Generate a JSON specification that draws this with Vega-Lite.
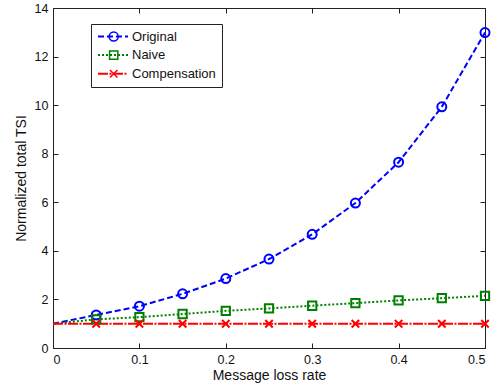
{
  "$schema": "https://vega.github.io/schema/vega-lite/v6.json",
  "width": 432,
  "height": 340,
  "autosize": {"type": "none"},
  "padding": {"left": 53, "top": 8, "right": 15, "bottom": 43},
  "background": "white",
  "config": {
    "font": "Liberation Sans",
    "view": {"stroke": "#222", "strokeWidth": 1},
    "axis": {"grid": false, "labelFont": "Liberation Sans", "titleFont": "Liberation Sans", "labelColor": "#111", "titleColor": "#111", "tickColor": "#222", "domainColor": "#222", "labelFontSize": 12.5, "titleFontSize": 14, "titleFontWeight": "normal", "tickSize": -5, "labelPadding": 10}
  },
  "data": {
    "values": [
      {"x": 0, "y": 1.0, "series": "Original"},
      {"x": 0.05, "y": 1.36, "series": "Original"},
      {"x": 0.1, "y": 1.72, "series": "Original"},
      {"x": 0.15, "y": 2.23, "series": "Original"},
      {"x": 0.2, "y": 2.86, "series": "Original"},
      {"x": 0.25, "y": 3.66, "series": "Original"},
      {"x": 0.3, "y": 4.68, "series": "Original"},
      {"x": 0.35, "y": 5.97, "series": "Original"},
      {"x": 0.4, "y": 7.65, "series": "Original"},
      {"x": 0.45, "y": 9.93, "series": "Original"},
      {"x": 0.5, "y": 12.99, "series": "Original"},
      {"x": 0, "y": 1.0, "series": "Naive"},
      {"x": 0.05, "y": 1.18, "series": "Naive"},
      {"x": 0.1, "y": 1.27, "series": "Naive"},
      {"x": 0.15, "y": 1.40, "series": "Naive"},
      {"x": 0.2, "y": 1.53, "series": "Naive"},
      {"x": 0.25, "y": 1.63, "series": "Naive"},
      {"x": 0.3, "y": 1.74, "series": "Naive"},
      {"x": 0.35, "y": 1.85, "series": "Naive"},
      {"x": 0.4, "y": 1.96, "series": "Naive"},
      {"x": 0.45, "y": 2.05, "series": "Naive"},
      {"x": 0.5, "y": 2.15, "series": "Naive"},
      {"x": 0, "y": 1.0, "series": "Compensation"},
      {"x": 0.05, "y": 1.0, "series": "Compensation"},
      {"x": 0.1, "y": 1.0, "series": "Compensation"},
      {"x": 0.15, "y": 1.0, "series": "Compensation"},
      {"x": 0.2, "y": 1.0, "series": "Compensation"},
      {"x": 0.25, "y": 1.0, "series": "Compensation"},
      {"x": 0.3, "y": 1.0, "series": "Compensation"},
      {"x": 0.35, "y": 1.0, "series": "Compensation"},
      {"x": 0.4, "y": 1.0, "series": "Compensation"},
      {"x": 0.45, "y": 1.0, "series": "Compensation"},
      {"x": 0.5, "y": 1.0, "series": "Compensation"}
    ]
  },
  "layer": [
    {
      "mark": {"type": "line"},
      "encoding": {
        "x": {"field": "x", "type": "quantitative", "scale": {"domain": [0, 0.5], "nice": false, "zero": false},
              "axis": {"values": [0, 0.1, 0.2, 0.3, 0.4, 0.5], "format": ".1~f", "title": "Message loss rate", "titlePadding": 3, "domain": false}},
        "y": {"field": "y", "type": "quantitative", "scale": {"domain": [0, 14], "nice": false},
              "axis": {"values": [0, 2, 4, 6, 8, 10, 12, 14], "title": "Normalized total TSI", "titlePadding": 6, "domain": false}},
        "color": {"field": "series", "type": "nominal", "sort": ["Original", "Naive", "Compensation"],
                  "scale": {"domain": ["Original", "Naive", "Compensation"], "range": ["#0000ff", "#008000", "#ff0000"]},
                  "legend": {"orient": "none", "legendX": 38, "legendY": 16, "title": null, "symbolType": "stroke", "symbolSize": 900, "padding": 6, "strokeColor": "#222", "labelFont": "Liberation Sans", "labelFontSize": 13, "labelColor": "#111", "labelOffset": 3, "clipHeight": 13, "rowPadding": 4.6}},
        "strokeDash": {"field": "series", "type": "nominal",
                       "scale": {"domain": ["Original", "Naive", "Compensation"], "range": [[6, 3], [2, 2], [10, 1.5, 2, 1.5]]},
                       "legend": {"orient": "none", "legendX": 38, "legendY": 16, "title": null}},
        "strokeWidth": {"field": "series", "type": "nominal",
                        "scale": {"domain": ["Original", "Naive", "Compensation"], "range": [2, 2, 4]},
                        "legend": {"orient": "none", "legendX": 38, "legendY": 16, "title": null}}
      }
    },
    {
      "transform": [{"filter": "datum.x > 0"}],
      "mark": {"type": "point", "filled": false, "strokeWidth": 2, "opacity": 1},
      "encoding": {
        "x": {"field": "x", "type": "quantitative",
              "axis": {"orient": "top", "values": [0, 0.1, 0.2, 0.3, 0.4, 0.5], "labels": false, "title": null, "domain": false}},
        "y": {"field": "y", "type": "quantitative",
              "axis": {"orient": "right", "values": [0, 2, 4, 6, 8, 10, 12, 14], "labels": false, "title": null, "domain": false}},
        "color": {"field": "series", "type": "nominal",
                  "legend": {"orient": "none", "legendX": 48.2, "legendY": 16, "title": null, "padding": 6, "labelFont": "Liberation Sans", "labelFontSize": 13, "labelExpr": "''", "labelOffset": 0, "clipHeight": 13, "rowPadding": 4.6}},
        "shape": {"field": "series", "type": "nominal",
                  "scale": {"domain": ["Original", "Naive", "Compensation"], "range": ["circle", "square", "M-1,-1L1,1M1,-1L-1,1"]},
                  "legend": {"orient": "none", "legendX": 48.2, "legendY": 16, "title": null}},
        "size": {"field": "series", "type": "nominal",
                 "scale": {"domain": ["Original", "Naive", "Compensation"], "range": [81, 56, 36]},
                 "legend": {"orient": "none", "legendX": 48.2, "legendY": 16, "title": null}}
      }
    }
  ],
  "resolve": {
    "legend": {"color": "independent", "strokeDash": "independent", "strokeWidth": "independent", "shape": "independent", "size": "independent"},
    "axis": {"x": "independent", "y": "independent"}
  }
}
